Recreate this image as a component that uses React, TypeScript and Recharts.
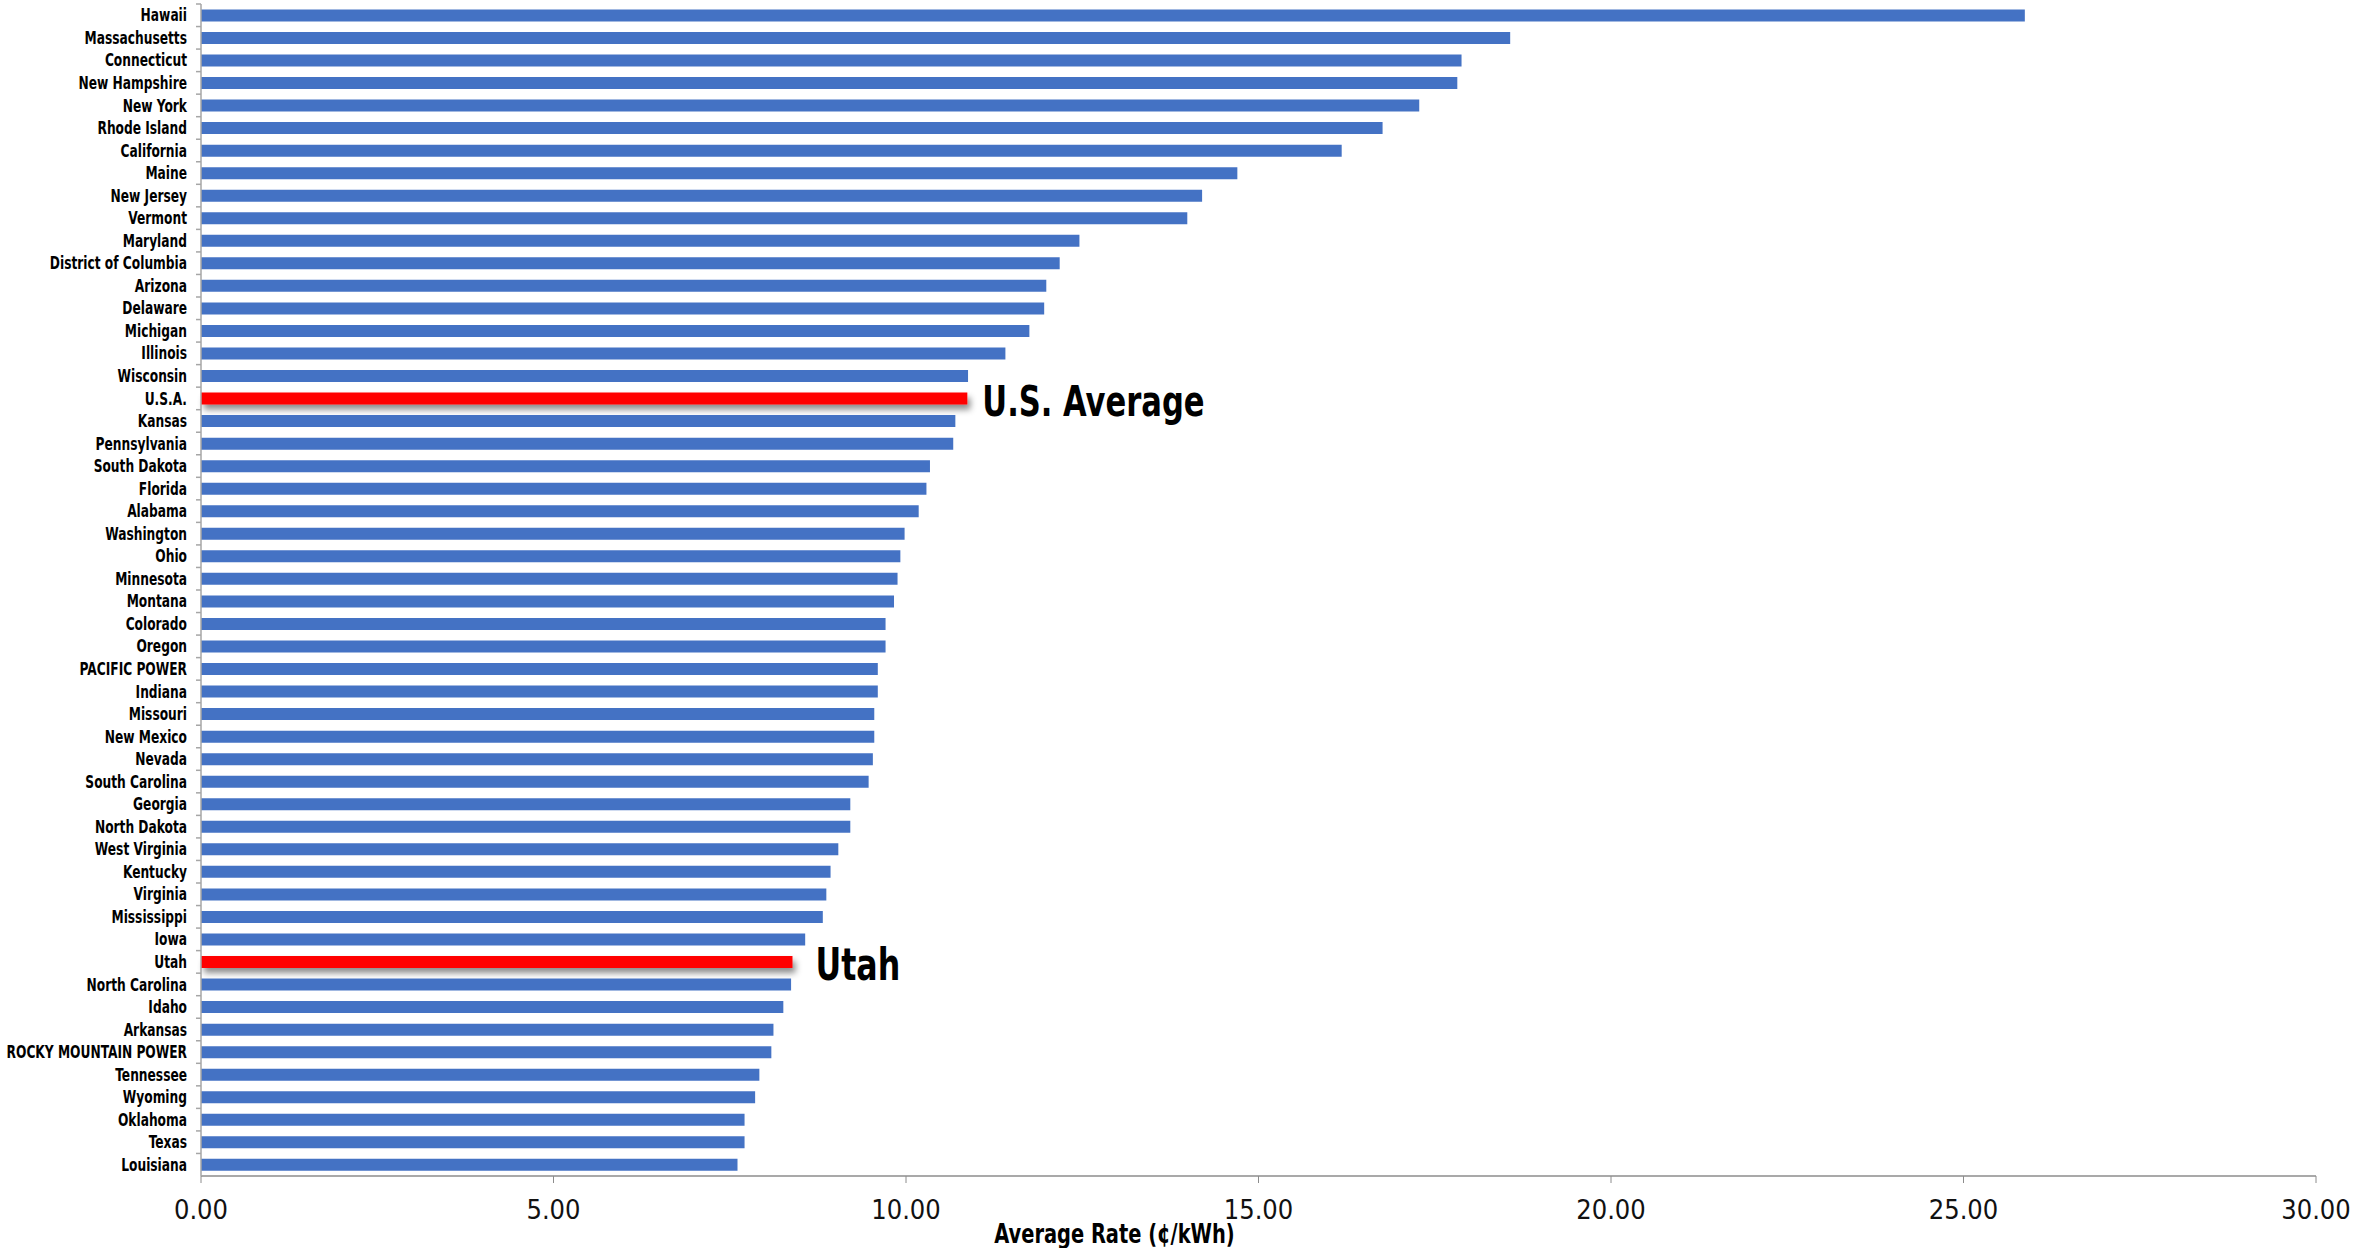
import React from "react";
import { BarChart, Bar, XAxis, YAxis, Cell, LabelList } from "recharts";

const states = [
  "Hawaii", "Massachusetts", "Connecticut", "New Hampshire", "New York", "Rhode Island",
  "California", "Maine", "New Jersey", "Vermont", "Maryland", "District of Columbia",
  "Arizona", "Delaware", "Michigan", "Illinois", "Wisconsin", "U.S.A.", "Kansas",
  "Pennsylvania", "South Dakota", "Florida", "Alabama", "Washington", "Ohio", "Minnesota",
  "Montana", "Colorado", "Oregon", "PACIFIC POWER", "Indiana", "Missouri", "New Mexico",
  "Nevada", "South Carolina", "Georgia", "North Dakota", "West Virginia", "Kentucky",
  "Virginia", "Mississippi", "Iowa", "Utah", "North Carolina", "Idaho", "Arkansas",
  "ROCKY MOUNTAIN POWER", "Tennessee", "Wyoming", "Oklahoma", "Texas", "Louisiana",
];

const rates = [
  25.87, 18.57, 17.88, 17.82, 17.28, 16.76,
  16.18, 14.7, 14.2, 13.99, 12.46, 12.18,
  11.99, 11.96, 11.75, 11.41, 10.88, 10.87, 10.7,
  10.67, 10.34, 10.29, 10.18, 9.98, 9.92, 9.88,
  9.83, 9.71, 9.71, 9.6, 9.6, 9.55, 9.55,
  9.53, 9.47, 9.21, 9.21, 9.04, 8.93,
  8.87, 8.82, 8.57, 8.39, 8.37, 8.26, 8.12,
  8.09, 7.92, 7.86, 7.71, 7.71, 7.61,
];

const xTicks = [0, 5, 10, 15, 20, 25, 30];

// highlighted rows and the callout text next to them
const highlighted = ["U.S.A.", "Utah"];
const callouts = ["U.S. Average", "Utah"];
const calloutGap = [15, 23];
const calloutSize = [42.5, 44];

const data = states.map((name, i) => ({ name, rate: rates[i] }));

const W = 2377;
const H = 1248;
const TOP = 4;
const XAXIS_H = 72;
const YAXIS_W = 201;
const BAND = (H - TOP - XAXIS_H) / states.length;
const FONT = "'DejaVu Sans Condensed', 'Liberation Sans Narrow', sans-serif";
const SQUEEZE = 0.8; // DejaVu Condensed is wider than the Calibri in the original

// bold text squeezed horizontally so it keeps the height but matches width
const Narrow = ({ x, y, size, anchor = "start", children }: any) => (
  <text
    transform={`translate(${x},${y}) scale(${SQUEEZE},1)`}
    dy="0.36em"
    textAnchor={anchor}
    fontFamily={FONT}
    fontWeight="bold"
    fontSize={size}
    fill="#000"
  >
    {children}
  </text>
);

const StateTick = (props: any) => {
  const { x, y, payload } = props;
  return (
    <g>
      <line x1={YAXIS_W - 5} x2={YAXIS_W} y1={y - BAND / 2} y2={y - BAND / 2} stroke="#a6a6a6" strokeWidth={1.5} />
      <Narrow x={x} y={y} size={17} anchor="end">{payload.value}</Narrow>
    </g>
  );
};

const Callout = (props: any) => {
  const { x, y, width, height, value } = props;
  const idx = highlighted.indexOf(value);
  if (idx < 0) return null;
  return (
    <Narrow x={x + width + calloutGap[idx]} y={y + height / 2 + 2} size={calloutSize[idx]}>
      {callouts[idx]}
    </Narrow>
  );
};

const AxisTitle = (props: any) => {
  const { viewBox } = props;
  const cx = viewBox.x + viewBox.width / 2 - 144;
  const cy = viewBox.y + viewBox.height - 15;
  return <Narrow x={cx} y={cy} size={27} anchor="middle">Average Rate (¢/kWh)</Narrow>;
};

export default function App() {
  return (
    <div style={{ position: "absolute", left: 0, top: 0, width: W, height: H, background: "#fff" }}>
      <svg width={0} height={0} style={{ position: "absolute" }}>
        <defs>
          <filter id="redShadow" x="-5%" y="-100%" width="110%" height="400%">
            <feDropShadow dx={3} dy={5} stdDeviation={3} floodColor="#000" floodOpacity={0.45} />
          </filter>
        </defs>
      </svg>
      <BarChart
        width={W}
        height={H}
        data={data}
        layout="vertical"
        margin={{ top: TOP, right: 61, left: 0, bottom: 0 }}
        barCategoryGap="24%"
      >
        <XAxis
          type="number"
          domain={[0, 30]}
          ticks={xTicks}
          tickFormatter={(v: number) => v.toFixed(2)}
          height={XAXIS_H}
          axisLine={{ stroke: "#8c8c8c", strokeWidth: 1.5 }}
          tickLine={{ stroke: "#8c8c8c" }}
          tickSize={7}
          tickMargin={17}
          tick={{ fontFamily: FONT, fontSize: 27, fill: "#111" }}
          interval={0}
          label={<AxisTitle />}
        />
        <YAxis
          type="category"
          dataKey="name"
          width={YAXIS_W}
          interval={0}
          axisLine={{ stroke: "#a6a6a6", strokeWidth: 1.5 }}
          tickLine={false}
          tickSize={5}
          tickMargin={9}
          tick={<StateTick />}
        />
        <Bar dataKey="rate" isAnimationActive={false}>
          {data.map((d) => (
            <Cell
              key={d.name}
              fill={highlighted.includes(d.name) ? "#ff0000" : "#4472c4"}
              filter={highlighted.includes(d.name) ? "url(#redShadow)" : undefined}
            />
          ))}
          <LabelList dataKey="name" content={<Callout />} />
        </Bar>
      </BarChart>
    </div>
  );
}
